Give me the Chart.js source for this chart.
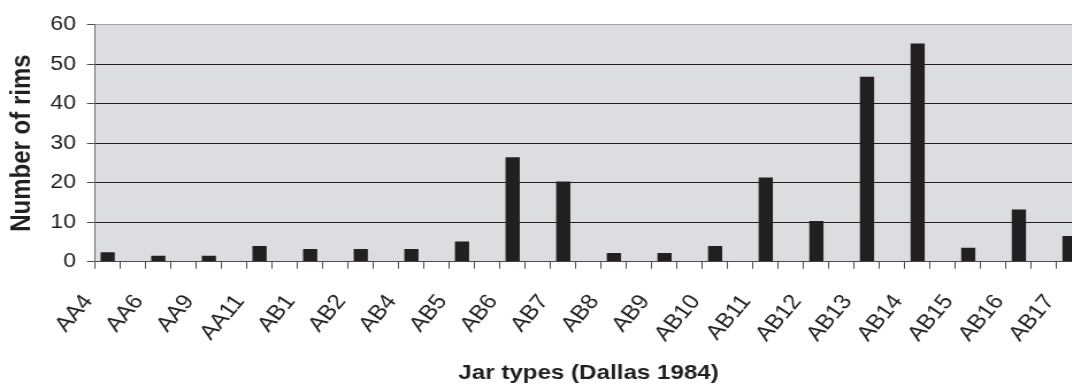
<!DOCTYPE html>
<html>
<head>
<meta charset="utf-8">
<script src="https://cdn.jsdelivr.net/npm/chart.js@4.4.0/dist/chart.umd.min.js"></script>
<style>
  html, body { margin: 0; padding: 0; background: #fff; }
  /* the source figure is stretched sideways, so the chart is drawn narrow and widened */
  #frame { width: 1072px; height: 388px; overflow: hidden; }
  #stretch { width: 950px; height: 388px; transform: scaleX(1.15); transform-origin: 0 0; }
</style>
</head>
<body>
<div id="frame"><div id="stretch"><canvas id="rimChart" width="950" height="388"></canvas></div></div>
<script>
// ---- data ----
const jarTypes = ['AA4', 'AA6', 'AA9', 'AA11', 'AB1', 'AB2', 'AB4', 'AB5', 'AB6', 'AB7',
                  'AB8', 'AB9', 'AB10', 'AB11', 'AB12', 'AB13', 'AB14', 'AB15', 'AB16', 'AB17'];
const rimCounts = [2.4, 1.5, 1.5, 4, 3.2, 3.2, 3.2, 5.1, 26.4, 20.3,
                   2.2, 2.2, 4, 21.3, 10.3, 46.8, 55.2, 3.5, 13.2, 6.5];
const yMin = 0;
const yMax = 60;
const yStep = 10;

// the axis has an empty slot between every labelled type
const slotLabels = [];
const slotValues = [];
jarTypes.forEach(function(t, i) {
    if (i > 0) { slotLabels.push(''); slotValues.push(null); }
    slotLabels.push(t);
    slotValues.push(rimCounts[i]);
});

const FONT = "'Liberation Sans', Arial, sans-serif";
const INK = '#231f20';

// grey plot area
const plotBackground = {
    id: 'plotBackground',
    beforeDraw(chart) {
        const a = chart.chartArea;
        const ctx = chart.ctx;
        ctx.save();
        ctx.fillStyle = '#dcdde0';
        ctx.fillRect(a.left, a.top, a.right - a.left, a.bottom - a.top);
        ctx.restore();
    }
};

new Chart(document.getElementById('rimChart'), {
    type: 'bar',
    data: {
        labels: slotLabels,
        datasets: [{
            data: slotValues,
            backgroundColor: INK,
            borderWidth: 0,
            barPercentage: 0.56,
            categoryPercentage: 1
        }]
    },
    options: {
        responsive: false,
        animation: false,
        layout: { padding: { top: 24.5, right: 9, left: 0, bottom: 0 } },
        plugins: {
            legend: { display: false },
            tooltip: { enabled: false }
        },
        scales: {
            x: {
                offset: true,
                afterFit: function(s) { s.height = 126.3; s.paddingLeft = 0; s.paddingRight = 0; },
                grid: {
                    offset: true,
                    drawOnChartArea: false,
                    drawTicks: true,
                    tickLength: 7,
                    tickColor: '#4d4d4d'
                },
                border: { color: '#4d4d4d', width: 1 },
                ticks: {
                    autoSkip: false,
                    minRotation: 53,
                    maxRotation: 53,
                    labelOffset: -17,
                    padding: 21.5,
                    color: INK,
                    font: { family: FONT, size: 21 }
                },
                title: {
                    display: true,
                    text: 'Jar types (Dallas 1984)',
                    color: INK,
                    font: { family: FONT, size: 21, weight: 'bold' },
                    padding: { top: 0, bottom: 2 }
                }
            },
            y: {
                min: yMin,
                max: yMax,
                afterFit: function(s) { s.width = 82.6; },
                ticks: {
                    stepSize: yStep,
                    padding: 9.6,
                    color: INK,
                    font: { family: FONT, size: 20 }
                },
                grid: {
                    color: function(c) { return c.tick && c.tick.value === yMax ? '#a6a6a6' : INK; },
                    lineWidth: 1,
                    drawTicks: true,
                    tickLength: 7,
                    tickColor: '#4d4d4d'
                },
                border: { color: '#6e6e6e', width: 1 },
                title: {
                    display: true,
                    text: 'Number of rims',
                    color: INK,
                    font: { family: FONT, size: 24, weight: 'bold' },
                    padding: { top: 5, bottom: 4 }
                }
            }
        }
    },
    plugins: [plotBackground]
});
</script>
</body>
</html>
